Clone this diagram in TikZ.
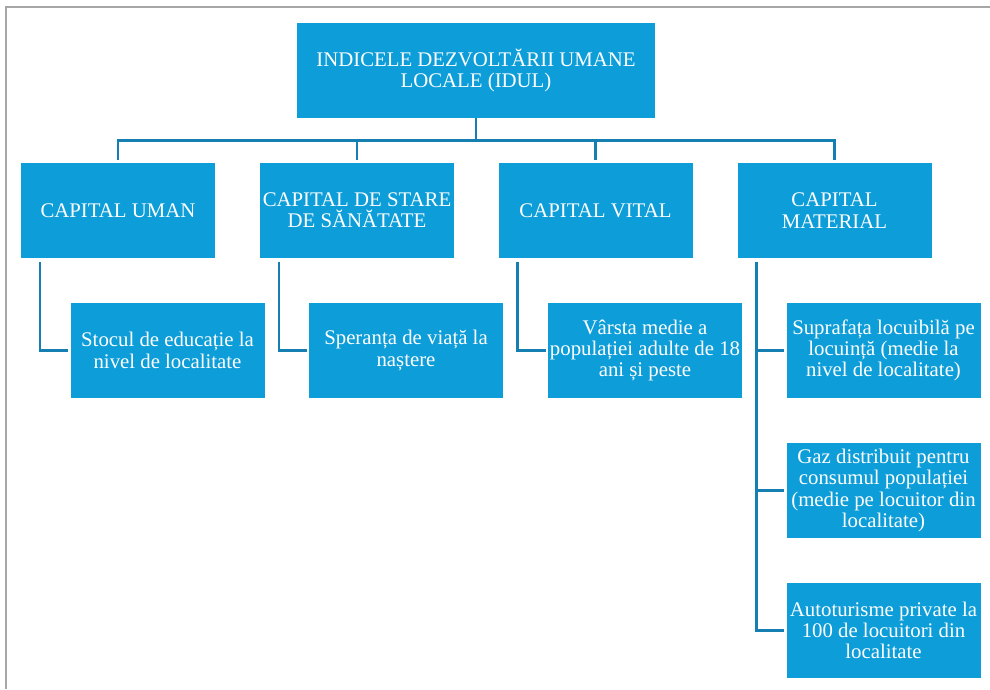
\documentclass[tikz,border=0pt]{standalone}
\usepackage{fontspec}
\setmainfont{Liberation Serif}
\usepackage{xcolor}
\usepackage{tikz}
\usetikzlibrary{calc}

\definecolor{boxblue}{RGB}{13,158,217}
\definecolor{lineblue}{RGB}{22,127,178}
\tikzset{
  box/.style={fill=boxblue, text=white, minimum width=194pt, minimum height=95pt,
    inner sep=0pt, align=center, font=\fontsize{20.8}{21.3}\selectfont},
  conn/.style={draw=lineblue, line width=2.6pt}
}

\begin{document}
\begin{tikzpicture}[x=1pt,y=-1pt]
\useasboundingbox (0,0) rectangle (990,689);
\draw[gray!70,line width=1.2pt] (6,689) -- (6,7) -- (990,7);
\node[box, minimum width=358pt] (idul) at (476,70.5) {INDICELE DEZVOLTĂRII UMANE\\LOCALE (IDUL)};
\foreach \n/\x/\t in {uman/118/{CAPITAL UMAN}, sanatate/357/{CAPITAL DE STARE\\DE SĂNĂTATE},
    vital/595.5/{CAPITAL VITAL}, material/834.5/{CAPITAL\\MATERIAL}}
  \node[box] (\n) at (\x,210.5) {\t};
\node[box] (stoc) at (167.5,350.5) {Stocul de educație la\\nivel de localitate};
\node[box] (speranta) at (406,350.5) {Speranța de viață la\\naștere};
\node[box] (varsta) at (645,350.5) {Vârsta medie a\\populației adulte de 18\\ani și peste};
\node[box] (suprafata) at (883.5,350.5) {Suprafața locuibilă pe\\locuință (medie la\\nivel de localitate)};
\node[box] (gaz) at (883.5,490.5) {Gaz distribuit pentru\\consumul populației\\(medie pe locuitor din\\localitate)};
\node[box] (auto) at (883.5,630.5) {Autoturisme private la\\100 de locuitori din\\localitate};
\draw[conn] (idul.south) -- ++(0,22) coordinate (bar);
\foreach \n in {uman,sanatate,vital,material}
  \draw[conn] (bar) -| ([yshift=3pt]\n.north);
\foreach \p/\c in {uman/stoc, sanatate/speranta, vital/varsta, material/suprafata, material/gaz, material/auto}
  \draw[conn] ([xshift=19pt,yshift=-4pt]\p.south west) |- ([xshift=-2pt]\c.west);
\end{tikzpicture}
\end{document}
